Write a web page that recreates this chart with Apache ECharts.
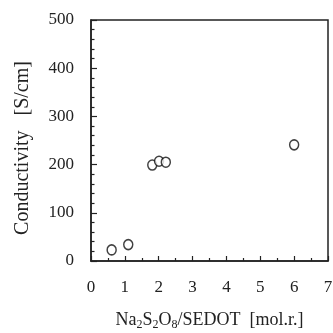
<!DOCTYPE html>
<html>
<head>
<meta charset="utf-8">
<script src="https://cdn.jsdelivr.net/npm/echarts@6/dist/echarts.min.js"></script>
<style>
  html, body { margin: 0; padding: 0; background: #fff; }
  #chart { width: 333px; height: 333px; }
</style>
</head>
<body>
<div id="chart"></div>
<script>
// Oxidant ratio (Na2S2O8/SEDOT, mol.r.) vs. conductivity (S/cm)
const ratio = [0.61, 1.10, 1.81, 2.01, 2.21, 6.0];
const conductivity = [23, 34, 199, 207, 205, 241];
const xTicks = [0, 1, 2, 3, 4, 5, 6, 7];
const yTicks = [0, 100, 200, 300, 400, 500];

const serif = '"Liberation Serif", "DejaVu Serif", serif';
const points = ratio.map((r, i) => [r, conductivity[i]]);

const chart = echarts.init(document.getElementById('chart'), null, { renderer: 'canvas' });
chart.setOption({
  animation: false,
  backgroundColor: '#fff',
  grid: {
    left: 91, right: 5, top: 20, bottom: 72,
    outerBoundsMode: 'none',
    containLabel: false,
    show: true, borderColor: '#222', borderWidth: 1.5, backgroundColor: 'transparent'
  },
  xAxis: {
    type: 'value',
    min: xTicks[0], max: xTicks[xTicks.length - 1], interval: 1,
    name: '{t|Na}{s|2}{t|S}{s|2}{t|O}{s|8}{t|/SEDOT  [mol.r.]}',
    nameLocation: 'middle', nameGap: 48,
    nameTextStyle: {
      rich: {
        t: { fontFamily: serif, fontSize: 18, color: '#222' },
        s: { fontFamily: serif, fontSize: 12, color: '#222', verticalAlign: 'bottom', padding: [10, 0, 0, 0] }
      }
    },
    axisLine: { show: true, lineStyle: { color: '#222', width: 1.5 } },
    axisTick: { show: true, inside: true, length: 5, lineStyle: { color: '#222', width: 1.2 } },
    minorTick: { show: true, splitNumber: 2, length: 3, lineStyle: { color: '#222', width: 1.2 } },
    splitLine: { show: false },
    axisLabel: { margin: 18, fontFamily: serif, fontSize: 17, color: '#222' }
  },
  yAxis: {
    type: 'value',
    min: yTicks[0], max: yTicks[yTicks.length - 1], interval: 100,
    name: 'Conductivity   [S/cm]',
    nameLocation: 'middle', nameGap: 58,
    nameTextStyle: { fontFamily: serif, fontSize: 20, color: '#222', padding: [0, 15, 0, 0] },
    axisLine: { show: true, lineStyle: { color: '#222', width: 1.5 } },
    axisTick: { show: true, inside: true, length: 6, lineStyle: { color: '#222', width: 1.2 } },
    minorTick: { show: true, splitNumber: 5, length: 3.5, lineStyle: { color: '#222', width: 1.2 } },
    splitLine: { show: false },
    axisLabel: { margin: 17, fontFamily: serif, fontSize: 17, color: '#222' }
  },
  series: [{
    type: 'scatter',
    data: points,
    symbol: 'circle',
    symbolSize: [9, 10],
    itemStyle: { color: '#fff', borderColor: '#111', borderWidth: 1.5 }
  }]
});
</script>
</body>
</html>
